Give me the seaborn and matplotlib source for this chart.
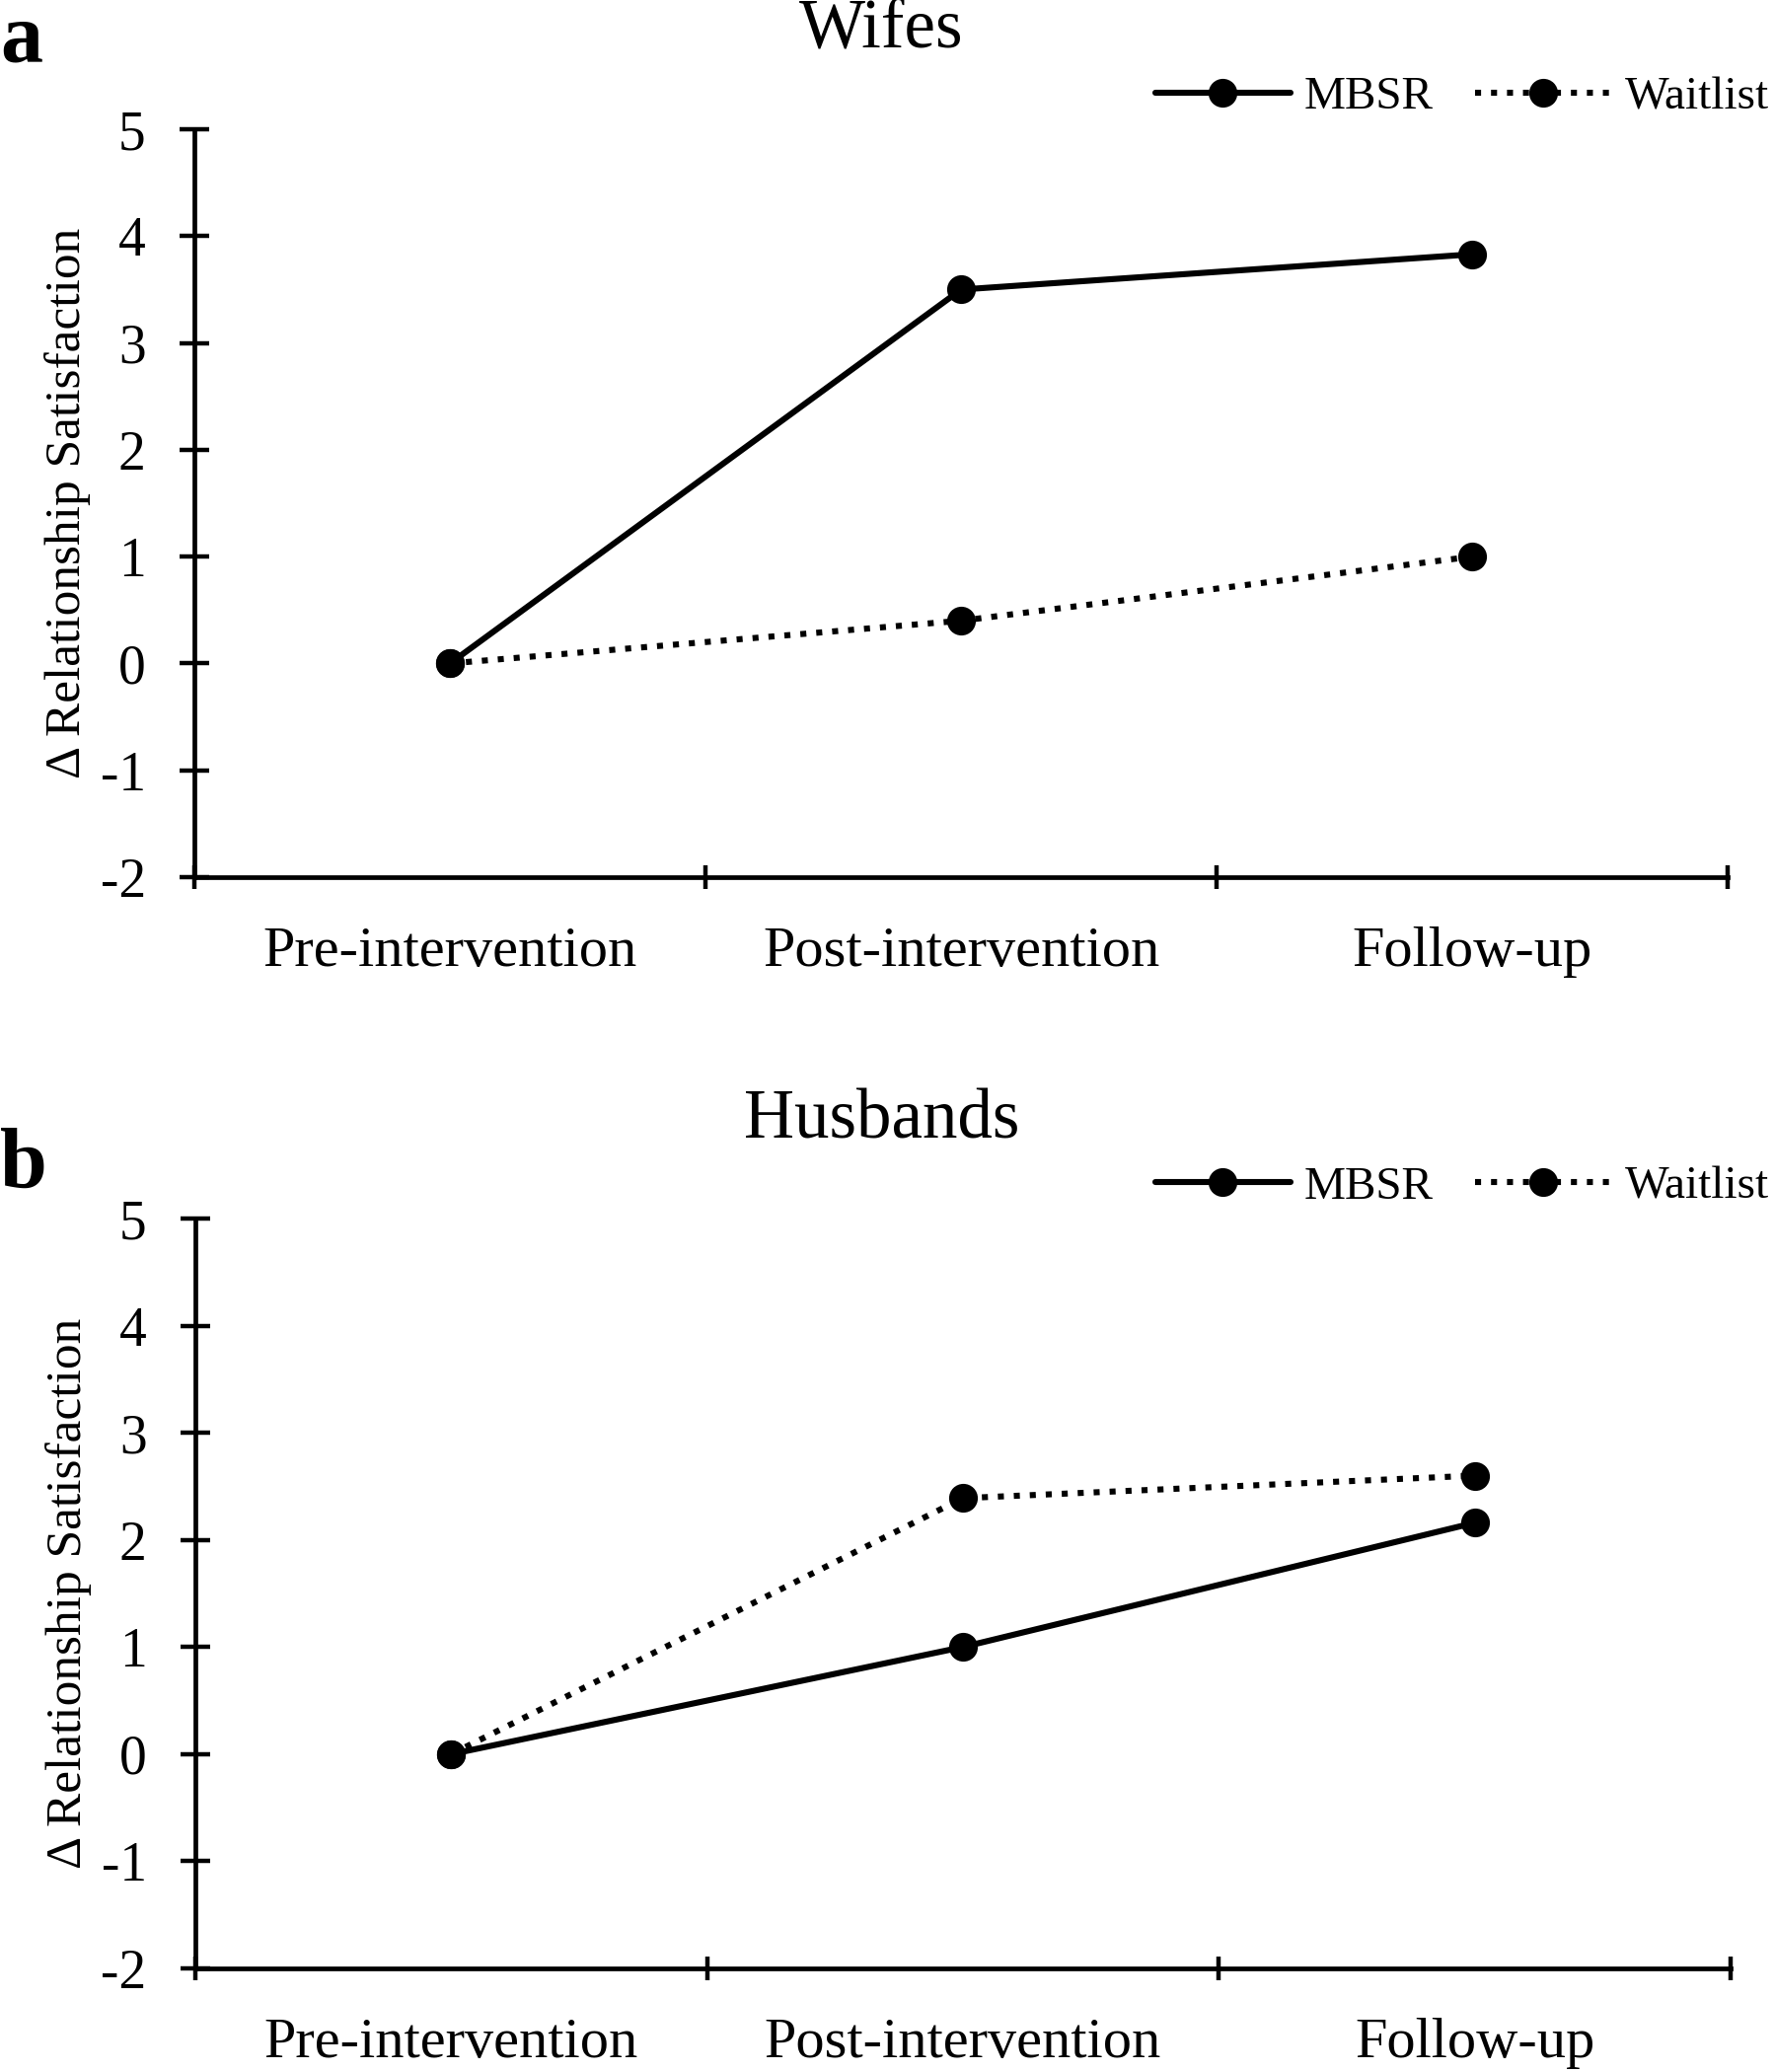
import pandas as pd
import matplotlib.pyplot as plt
import seaborn as sns

# --- DATA ---
timepoints = ["Pre-intervention", "Post-intervention", "Follow-up"]
groups = ["MBSR", "Waitlist"]

wives_mbsr = [0.0, 3.50, 3.83]
wives_waitlist = [0.0, 0.40, 1.00]
husbands_mbsr = [0.0, 1.00, 2.16]
husbands_waitlist = [0.0, 2.39, 2.60]

y_ticks = [-2, -1, 0, 1, 2, 3, 4, 5]
y_label = "\u0394 Relationship Satisfaction"


def make_frame(mbsr, waitlist):
    rows = []
    for g, vals in zip(groups, [mbsr, waitlist]):
        for t, v in zip(timepoints, vals):
            rows.append({"time": t, "value": v, "group": g})
    return pd.DataFrame(rows)


sns.set_theme(style="white")
plt.rcParams["font.family"] = ["Liberation Serif", "DejaVu Serif"]
plt.rcParams.update({"text.color": "black", "axes.labelcolor": "black",
                     "xtick.color": "black", "ytick.color": "black"})

fig = plt.figure(figsize=(17.98, 21.0), dpi=100)
ax_top = fig.add_axes([0.1096, 0.5767, 0.8644, 0.3609])
ax_bot = fig.add_axes([0.1101, 0.0500, 0.8654, 0.3619])

# (axes, data, title, panel letter, title y, letter top y, legend y) in figure fractions
panels = [
    (ax_top, make_frame(wives_mbsr, wives_waitlist), "Wifes", "a", 0.985, 0.999, 0.953),
    (ax_bot, make_frame(husbands_mbsr, husbands_waitlist), "Husbands", "b", 0.459, 0.456, 0.427),
]

for ax, df, title, letter, title_y, letter_y, leg_y in panels:
    sns.lineplot(
        data=df, x="time", y="value", hue="group", style="group",
        palette={"MBSR": "black", "Waitlist": "black"},
        markers={"MBSR": "o", "Waitlist": "o"},
        dashes={"MBSR": "", "Waitlist": (1, 1.65)},
        markersize=21, linewidth=4.4, markeredgewidth=0, ax=ax,
    )

    ax.set_xlim(-0.5, 2.5)
    ax.set_ylim(-2, 5)
    ax.set_yticks(y_ticks)
    ax.set_yticklabels([str(v) for v in y_ticks], fontsize=40)
    # boundary ticks between categories, labels centred under points
    ax.set_xticks([-0.5, 0.5, 1.5, 2.5])
    ax.set_xticklabels([])
    ax.set_xticks([0, 1, 2], minor=True)
    ax.set_xticklabels(timepoints, minor=True, fontsize=42)
    ax.tick_params(axis="x", which="minor", bottom=True, length=0, pad=36)
    ax.tick_params(axis="x", which="major", bottom=True, direction="inout",
                   length=17, width=3.2)
    ax.tick_params(axis="y", left=True, direction="inout", length=21, width=3.2,
                   pad=25)
    ax.set_xlabel("")
    ax.set_ylabel(y_label, fontsize=37, labelpad=7)

    for side in ["top", "right"]:
        ax.spines[side].set_visible(False)
    for side in ["left", "bottom"]:
        ax.spines[side].set_linewidth(3.4)
        ax.spines[side].set_color("black")

    sns.move_legend(
        ax, "center right", bbox_to_anchor=(0.997, leg_y),
        bbox_transform=fig.transFigure, ncol=2, frameon=False, title=None,
        fontsize=34, handlelength=2.9, handletextpad=0.3, columnspacing=0.9,
        borderpad=0, borderaxespad=0,
    )

    fig.text(0.497, title_y, title, ha="center", va="center", fontsize=51)
    fig.text(0.0, letter_y, letter, ha="left", va="top", fontsize=62,
             fontweight="bold")

fig.savefig("out.png", dpi=100, facecolor="white")
